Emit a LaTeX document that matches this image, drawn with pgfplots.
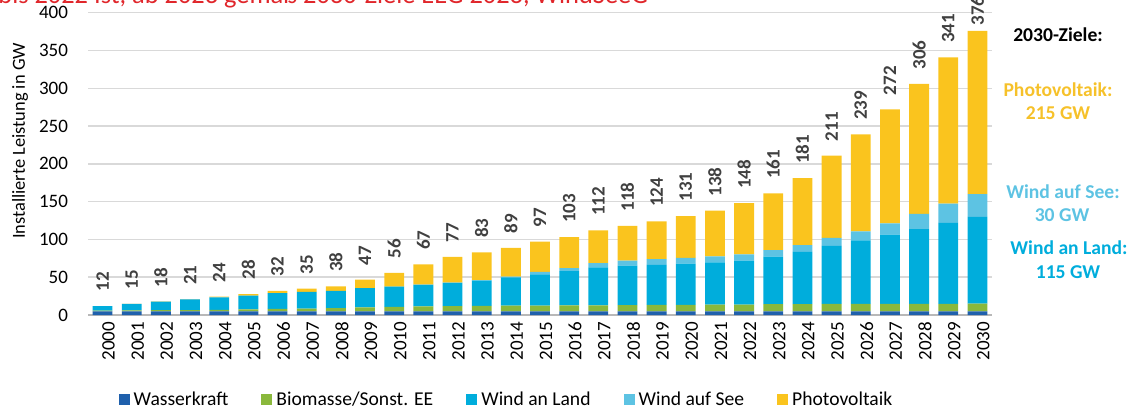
\documentclass[border=0pt]{standalone}
\usepackage{pgfplots}
\pgfplotsset{compat=1.18}
\usepackage{pgfplotstable}
\usepackage{fontspec}
\setmainfont{Carlito}
\definecolor{cHydro}{RGB}{31,96,172}
\definecolor{cBio}{RGB}{138,184,60}
\definecolor{cLand}{RGB}{0,173,220}
\definecolor{cSee}{RGB}{93,195,227}
\definecolor{cPV}{RGB}{250,196,30}
\definecolor{cPVtxt}{RGB}{246,193,42}
\definecolor{cTitle}{RGB}{224,38,43}
\definecolor{cGrid}{RGB}{217,217,217}
\definecolor{cLab}{RGB}{64,64,64}
\pgfplotstableread{
year hydro bio land see pv total gap
2000 4.8 0.9 6.0 0 0.1 12 7
2001 4.8 1.2 8.7 0 0.2 15 7
2002 4.8 1.5 11.5 0 0.3 18 7
2003 4.8 1.8 14.0 0 0.4 21 7
2004 4.8 2.0 16.4 0 1.1 24 7
2005 4.8 2.6 18.4 0 2.0 28 7
2006 4.8 3.2 20.9 0 2.9 32 7
2007 4.8 3.8 22.1 0 4.2 35 7
2008 4.8 4.3 22.8 0 6.1 38 7
2009 4.8 5.2 25.5 0.1 11.3 47 7
2010 4.8 5.8 26.8 0.1 18.3 56 7
2011 4.8 6.6 28.5 0.2 26.9 67 7
2012 4.8 7.0 30.7 0.3 34.1 77 7
2013 4.8 7.3 33.3 0.9 36.7 83 7
2014 4.8 7.5 37.6 1.0 37.9 89 7
2015 4.8 7.7 41.3 3.3 39.9 97 7
2016 4.8 7.9 45.3 4.2 40.7 103 7
2017 4.8 8.1 50.2 5.4 43.5 112 7
2018 4.8 8.3 52.3 6.4 46.2 118 7
2019 4.8 8.5 53.2 7.5 50.0 124 7
2020 4.8 8.7 54.4 7.8 55.3 131 7
2021 4.8 8.9 56.0 7.8 60.5 138 7
2022 4.8 9.1 58.1 8.1 67.9 148 7
2023 4.8 9.5 63.0 8.5 75.2 161 7
2024 4.8 9.7 69.0 9.0 88.5 181 7
2025 4.8 9.8 77.0 10.5 108.9 211 7
2026 4.8 9.9 84.0 12.0 128.3 239 7
2027 4.8 10.0 91.5 15.0 150.7 272 7
2028 4.8 10.0 99.0 20.0 172.2 306 7
2029 4.8 10.1 107.0 25.5 193.6 341 7
2030 4.8 10.2 115.0 30.0 216.0 376 2.5
}\data
\begin{document}
\begin{tikzpicture}
\begin{axis}[
  at={(44pt,47pt)}, anchor=south west,
  scale only axis, width=452pt, height=151.15pt,
  ybar stacked, bar width=0.68, bar shift=0pt,
  xmin=1999.5, xmax=2030.5, ymin=0, ymax=400,
  enlargelimits=false,
  axis x line*=bottom, axis y line*=left,
  x axis line style={draw=cGrid!85!black, line width=0.8pt, -},
  y axis line style={draw=none},
  xtick={2000,...,2030}, ytick={0,50,...,400},
  major tick length=0pt,
  ymajorgrids, grid style={draw=cGrid, line width=0.75pt},
  /pgf/number format/assume math mode=true,
  /pgf/number format/1000 sep={},
  xticklabel style={rotate=90, anchor=east, yshift=-3pt, font=\fontsize{9.5}{11}\selectfont, text=black},
  yticklabel style={anchor=east, xshift=-6.5pt, font=\fontsize{9.5}{11}\selectfont, text=black},
  legend columns=5,
  legend style={at={(0.464,-0.281)}, anchor=center, draw=none, fill=none,
    font=\fontsize{9.8}{12}\selectfont,
    /tikz/every even column/.append style={column sep=14.5pt}},
  legend image code/.code={\fill[#1] (0pt,-2.75pt) rectangle (5.5pt,2.75pt);},
]
\addplot[fill=cHydro, draw=none] table[x=year, y=hydro] {\data};
\addlegendentry{Wasserkraft}
\addplot[fill=cBio, draw=none] table[x=year, y=bio] {\data};
\addlegendentry{Biomasse/Sonst. EE}
\addplot[fill=cLand, draw=none] table[x=year, y=land] {\data};
\addlegendentry{Wind an Land}
\addplot[fill=cSee, draw=none] table[x=year, y=see] {\data};
\addlegendentry{Wind auf See}
\addplot[fill=cPV, draw=none] table[x=year, y=pv] {\data};
\addlegendentry{Photovoltaik}
\end{axis}
% overlay axis for the total labels
\begin{axis}[
  at={(44pt,47pt)}, anchor=south west,
  scale only axis, width=452pt, height=151.15pt,
  xmin=1999.5, xmax=2030.5, ymin=0, ymax=400,
  enlargelimits=false, hide axis, clip=false,
  /pgf/number format/assume math mode=true,
]
\addplot[only marks, mark=none, point meta=explicit,
  visualization depends on={\thisrow{gap} \as \labgap},
  nodes near coords={\pgfmathprintnumber[fixed,precision=0,assume math mode=true]{\pgfplotspointmeta}},
  nodes near coords align={horizontal},
  every node near coord/.append style={rotate=90, anchor=west, inner sep=0pt, xshift=\labgap pt,
    font=\fontsize{9.5}{11}\selectfont\bfseries, text=cLab}]
  table[x=year, y=total, meta=total] {\data};
\end{axis}
% title (cut at the top, as in the reference)
\node[anchor=base west, inner sep=0pt, text=cTitle, font=\fontsize{13.2}{15}\selectfont]
  at (-1pt,202.8pt) {bis 2022 Ist, ab 2023 gemäß 2030-Ziele EEG 2023, WindSeeG};
% y label
\node[rotate=90, inner sep=0pt, font=\fontsize{9.2}{11}\selectfont] at (10pt,134pt) {Installierte Leistung in GW};
% 2030 targets
\begin{scope}[every node/.style={inner sep=0pt, font=\fontsize{9.8}{12}\selectfont\bfseries}]
\node at (529pt,187pt) {2030-Ziele:};
\node[text=cPVtxt] at (529pt,159.5pt) {Photovoltaik:};
\node[text=cPVtxt] at (529pt,148pt) {215 GW};
\node[text=cSee] at (531.5pt,108.5pt) {Wind auf See:};
\node[text=cSee] at (531pt,97pt) {30 GW};
\node[text=cLand] at (534.5pt,80.5pt) {Wind an Land:};
\node[text=cLand] at (534pt,68.5pt) {115 GW};
\end{scope}
\pgfresetboundingbox
\path[use as bounding box] (0,0) rectangle (566.5pt,204.5pt);
\end{tikzpicture}
\end{document}
